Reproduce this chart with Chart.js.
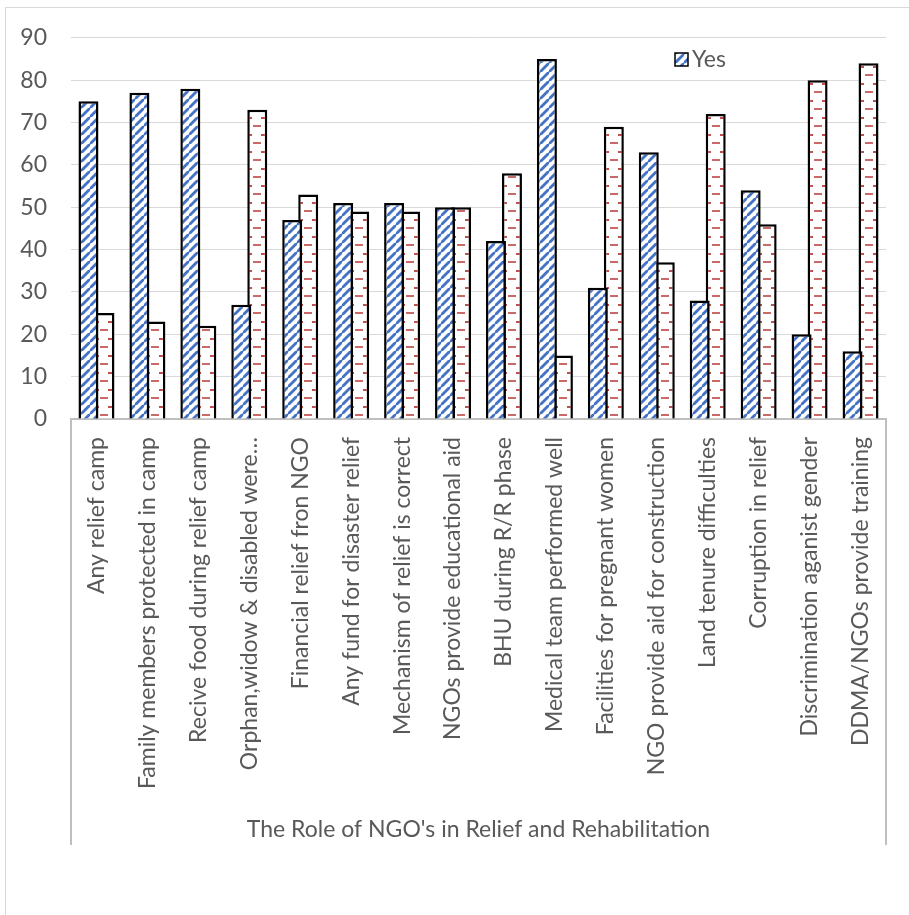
<!DOCTYPE html>
<html>
<head>
<meta charset="utf-8">
<script src="https://cdn.jsdelivr.net/npm/chart.js@4.4.1/dist/chart.umd.min.js"></script>
<style>
  body { margin: 0; overflow: hidden; background: #fff; }
  #frame { position: absolute; left: 5px; top: 7px; width: 1000px; height: 1000px; border: 1px solid #d9d9d9; }
  #grafico { position: absolute; left: 0; top: 0; }
</style>
</head>
<body>
<div id="frame"></div>
<canvas id="grafico" width="909" height="915"></canvas>
<script>
const categorias = [
    "Any relief camp",
    "Family members protected in camp",
    "Recive food during relief camp",
    "Orphan,widow & disabled were…",
    "Financial relief fron NGO",
    "Any fund for disaster relief",
    "Mechanism of relief is correct",
    "NGOs provide educational aid",
    "BHU during R/R phase",
    "Medical team performed well",
    "Facilities for pregnant women",
    "NGO provide aid for construction",
    "Land tenure difficulties",
    "Corruption in relief",
    "Discrimination aganist gender",
    "DDMA/NGOs provide training"
];
const valoresSim = [75, 77, 78, 27, 47, 51, 51, 50, 42, 85, 31, 63, 28, 54, 20, 16];
const valoresNao = [25, 23, 22, 73, 53, 49, 49, 50, 58, 15, 69, 37, 72, 46, 80, 84];
const tituloGrupo = "The Role of NGO's in Relief and Rehabilitation";
const legendaSim = "Yes";
const eixoMax = 90;
const eixoPasso = 10;

const fonte = "Lato, 'Open Sans', sans-serif";
const corTexto = '#595959';

// padrao listrado azul (Yes)
function padraoListras(ctx) {
    const c = document.createElement('canvas');
    c.width = 9; c.height = 9;
    const g = c.getContext('2d');
    g.fillStyle = '#fff';
    g.fillRect(0, 0, 9, 9);
    g.strokeStyle = '#4472C4';
    g.lineWidth = 2.8;
    [[-5, 4, 4, -5], [0, 9, 9, 0], [5, 14, 14, 5]].forEach(l => {
        g.beginPath(); g.moveTo(l[0], l[1]); g.lineTo(l[2], l[3]); g.stroke();
    });
    return ctx.createPattern(c, 'repeat');
}

// padrao tracejado vermelho (No)
function padraoTracos(ctx) {
    const c = document.createElement('canvas');
    c.width = 20; c.height = 17;
    const g = c.getContext('2d');
    g.fillStyle = '#fff';
    g.fillRect(0, 0, 20, 17);
    g.fillStyle = '#C0504D';
    g.fillRect(0, 4, 5, 2);
    g.fillRect(14, 4, 6, 2);
    g.globalAlpha = 0.85;
    g.fillRect(6, 12, 8, 2);
    return ctx.createPattern(c, 'repeat');
}

const canvas = document.getElementById('grafico');
const ctx2d = canvas.getContext('2d');
const listras = padraoListras(ctx2d);

function fundoNao(context) {
    const p = padraoTracos(ctx2d);
    const escala = context.chart.scales && context.chart.scales.x;
    if (escala && context.dataIndex !== undefined && context.chart.chartArea) {
        const cx = escala.getPixelForValue(context.dataIndex);
        p.setTransform(new DOMMatrix().translate(Math.round(cx - 2), context.chart.chartArea.bottom));
    }
    return p;
}

const extrasPlugin = {
    id: 'extras',
    afterDraw(chart) {
        const { ctx, chartArea } = chart;
        ctx.save();
        // caixa do eixo de categorias em dois niveis
        ctx.strokeStyle = '#BFBFBF';
        ctx.lineWidth = 2;
        ctx.beginPath();
        ctx.moveTo(chartArea.left, chartArea.bottom);
        ctx.lineTo(chartArea.left, 845);
        ctx.moveTo(chartArea.right, chartArea.bottom);
        ctx.lineTo(chartArea.right, 845);
        ctx.stroke();

        ctx.fillStyle = corTexto;
        ctx.font = '23px ' + fonte;
        ctx.textAlign = 'center';
        ctx.textBaseline = 'middle';
        ctx.fillText(tituloGrupo, (chartArea.left + chartArea.right) / 2, 830);

        // legenda
        ctx.fillStyle = listras;
        ctx.fillRect(675, 53, 13, 13);
        ctx.strokeStyle = '#000';
        ctx.lineWidth = 1.5;
        ctx.strokeRect(675, 53, 13, 13);
        ctx.fillStyle = corTexto;
        ctx.textAlign = 'left';
        ctx.fillText(legendaSim, 692, 60);
        ctx.restore();
    }
};

new Chart(ctx2d, {
    type: 'bar',
    data: {
        labels: categorias,
        datasets: [{
            label: 'Yes',
            data: valoresSim,
            backgroundColor: listras,
            borderColor: '#000',
            borderWidth: 2.5,
            categoryPercentage: 0.628,
            barPercentage: 1.25
        }, {
            label: 'No',
            data: valoresNao,
            backgroundColor: fundoNao,
            borderColor: '#000',
            borderWidth: 2.5,
            categoryPercentage: 0.628,
            barPercentage: 1.25
        }]
    },
    options: {
        responsive: false,
        animation: false,
        layout: { padding: { top: 37, right: 23, left: 0, bottom: 0 } },
        plugins: {
            legend: { display: false },
            tooltip: { enabled: false }
        },
        scales: {
            y: {
                min: 0,
                max: eixoMax,
                ticks: { stepSize: eixoPasso, color: corTexto, font: { family: fonte, size: 23 }, padding: 24 },
                grid: { color: '#D9D9D9', lineWidth: 1, drawTicks: false },
                border: { display: false },
                afterFit: s => { s.width = 71; }
            },
            x: {
                ticks: {
                    color: corTexto,
                    font: { family: fonte, size: 23 },
                    minRotation: 90,
                    maxRotation: 90,
                    autoSkip: false,
                    padding: 18
                },
                grid: { display: false, drawTicks: false },
                border: { display: true, color: '#BFBFBF', width: 2 },
                afterFit: s => { s.height = 915 - 419; }
            }
        }
    },
    plugins: [extrasPlugin]
});
</script>
</body>
</html>
